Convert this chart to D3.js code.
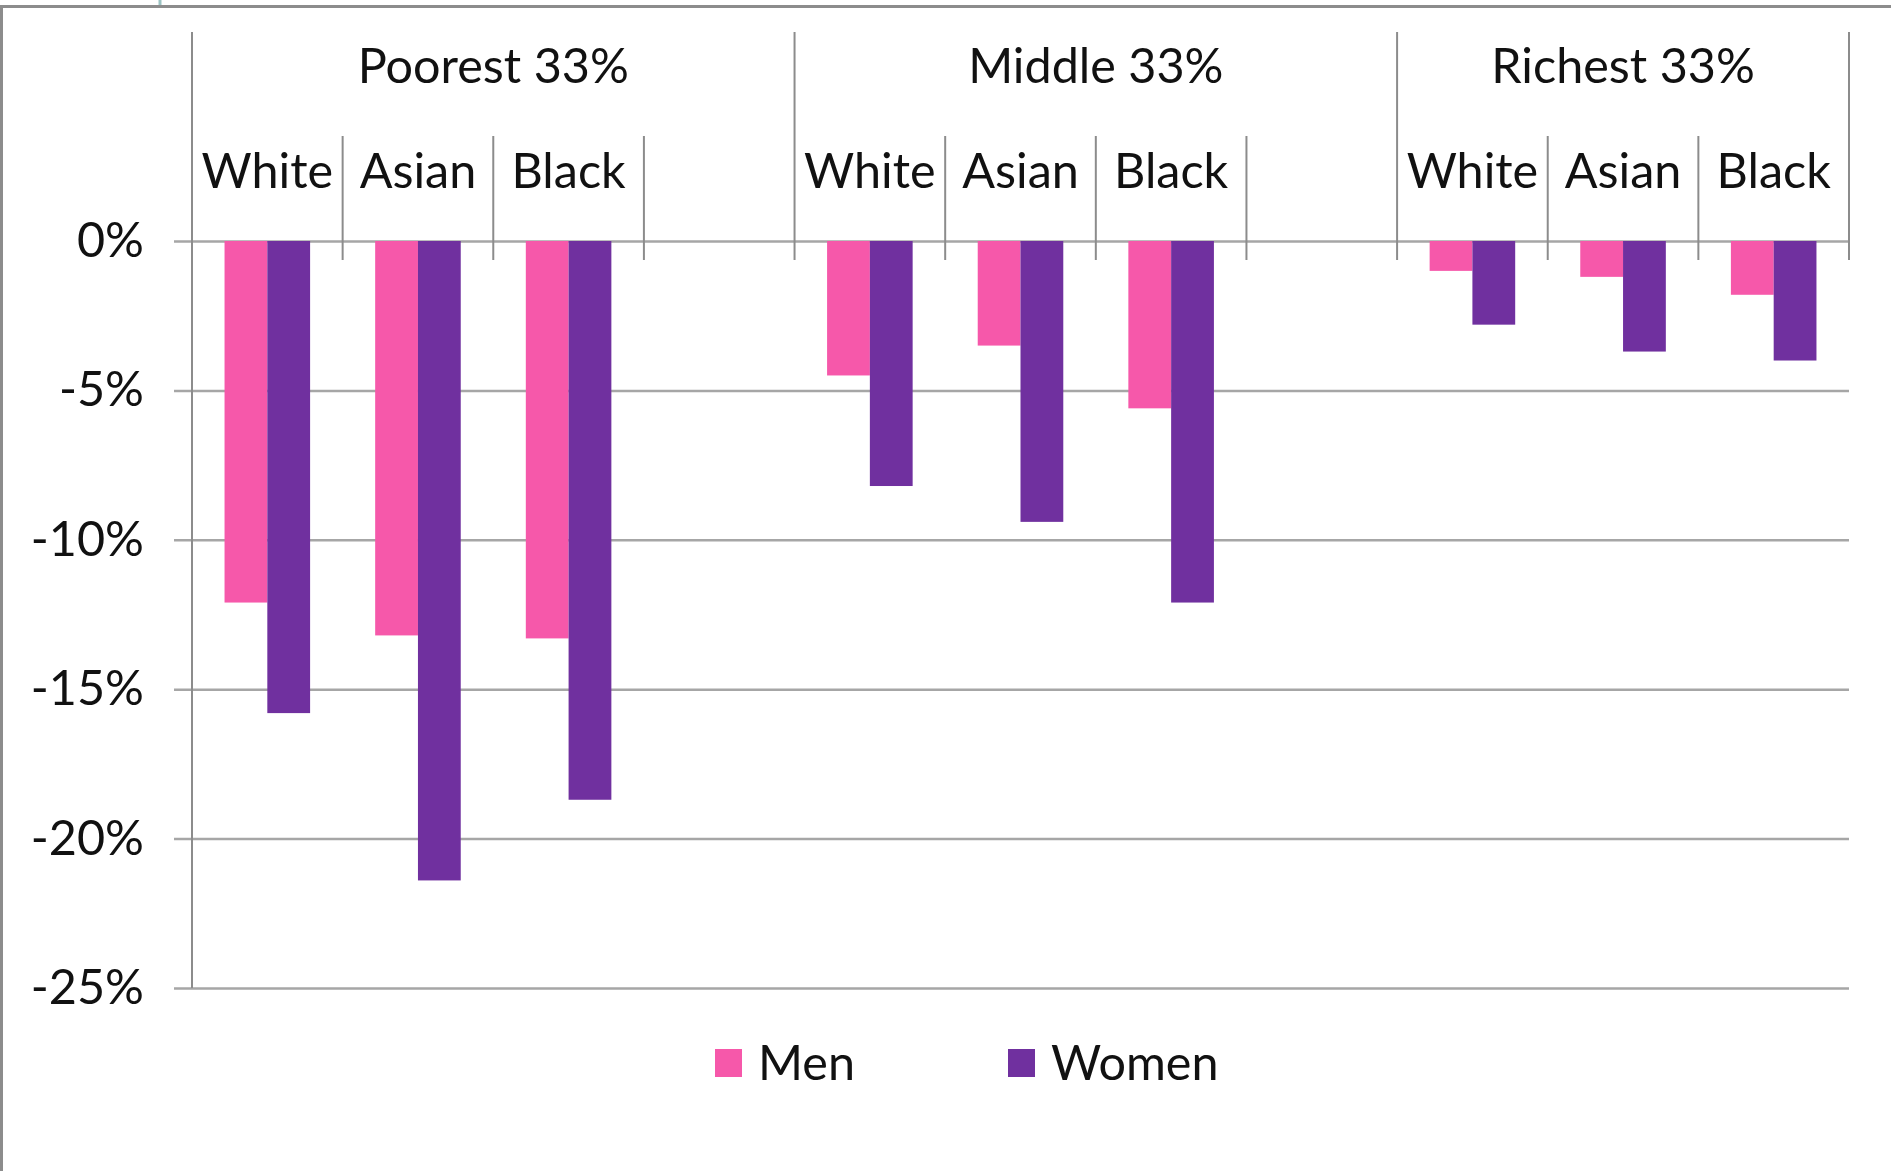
<!DOCTYPE html>
<html>
<head>
<meta charset="utf-8">
<script src="https://cdn.jsdelivr.net/npm/d3@7"></script>
<style>
  body { margin: 0; background: #fff; }
  text { font-family: Lato, "Liberation Sans", sans-serif; fill: #111; }
</style>
</head>
<body>
<script>
    var groups = ["Poorest 33%", "Middle 33%", "Richest 33%"];
    var races = ["White", "Asian", "Black"];
    var series = ["Men", "Women"];
    var men   = [-12.1, -13.2, -13.3, -4.5, -3.5, -5.6, -1.0, -1.2, -1.8];
    var women = [-15.8, -21.4, -18.7, -8.2, -9.4, -12.1, -2.8, -3.7, -4.0];
    var yTicks = [0, -5, -10, -15, -20, -25];

    var colors = {Men: "#f658aa", Women: "#70309f"};

    var width = 1891, height = 1171;
    var pLeft = 192, pRight = 1849, pTop = 241, pBottom = 988;
    var fontSize = 48.5;

    // one slot per race, plus an empty slot after each group but the last
    var slots = d3.range(groups.length * 4 - 1);
    var slotOf = function(i) { return Math.floor(i / 3) * 4 + (i % 3); };

    var x = d3.scaleBand().domain(slots).range([pLeft, pRight]).padding(0);
    var y = d3.scaleLinear().domain([0, -25]).range([pTop, pBottom]);
    var barW = x.bandwidth() * 0.284;

    var svg = d3.select("body").append("svg")
      .attr("width", width)
      .attr("height", height);

    //outer frame
    svg.append("path")
      .attr("d", "M1.5," + height + "V6.5H" + width)
      .attr("fill", "none")
      .attr("stroke", "#8c8c8c")
      .attr("stroke-width", 3);
    svg.append("line")
      .attr("x1", 160).attr("x2", 160).attr("y1", 0).attr("y2", 5)
      .attr("stroke", "#9cc3c3").attr("stroke-width", 3);

    //add the Y axis with gridlines
    var yAxis = svg.append("g")
      .attr("transform", "translate(" + (pLeft - 18) + ",0)")
      .call(d3.axisLeft(y)
        .tickValues(yTicks)
        .tickSize(-(pRight - pLeft + 18))
        .tickPadding(30)
        .tickFormat(function(d) { return d + "%"; }));
    yAxis.select(".domain").remove();
    yAxis.selectAll(".tick line")
      .attr("stroke", "#a6a6a6")
      .attr("stroke-width", 2.5);
    yAxis.selectAll(".tick text")
      .style("font-size", fontSize + "px")
      .attr("fill", "#111");

    //plot left edge
    svg.append("line")
      .attr("x1", pLeft).attr("x2", pLeft)
      .attr("y1", 32).attr("y2", pBottom)
      .attr("stroke", "#8c8c8c").attr("stroke-width", 2);

    //category ticks and group dividers
    var bounds = slots.concat([slots.length]);
    svg.selectAll(".ctick")
      .data(bounds)
      .enter().append("line")
      .attr("class", "ctick")
      .attr("x1", function(d) { return d < slots.length ? x(d) : pRight; })
      .attr("x2", function(d) { return d < slots.length ? x(d) : pRight; })
      .attr("y1", function(d) { return d % 4 === 0 || d === slots.length ? 32 : 136; })
      .attr("y2", 260)
      .attr("stroke", "#8c8c8c")
      .attr("stroke-width", 2);

    //add the bars
    var bars = [];
    men.forEach(function(v, i) {
      bars.push({s: "Men", slot: slotOf(i), v: v});
      bars.push({s: "Women", slot: slotOf(i), v: women[i]});
    });
    var off = (x.bandwidth() - 2 * barW) / 2;
    svg.selectAll(".bar")
      .data(bars)
      .enter().append("rect")
      .attr("class", "bar")
      .attr("x", function(d) { return x(d.slot) + off + (d.s === "Women" ? barW : 0); })
      .attr("y", y(0))
      .attr("width", barW)
      .attr("height", function(d) { return y(d.v) - y(0); })
      .attr("fill", function(d) { return colors[d.s]; });

    //race labels
    var raceLabels = [];
    groups.forEach(function(g, gi) {
      races.forEach(function(r, ri) { raceLabels.push({t: r, slot: gi * 4 + ri}); });
    });
    svg.selectAll(".race")
      .data(raceLabels)
      .enter().append("text")
      .attr("class", "race")
      .attr("x", function(d) { return x(d.slot) + x.bandwidth() / 2; })
      .attr("y", 171)
      .attr("dy", "0.35em")
      .attr("text-anchor", "middle")
      .style("font-size", fontSize + "px")
      .text(function(d) { return d.t; });

    //group labels
    svg.selectAll(".grp")
      .data(groups)
      .enter().append("text")
      .attr("class", "grp")
      .attr("x", function(d, i) {
        var a = x(i * 4), b = i === groups.length - 1 ? pRight : x(i * 4 + 4);
        return (a + b) / 2;
      })
      .attr("y", 66)
      .attr("dy", "0.35em")
      .attr("text-anchor", "middle")
      .style("font-size", fontSize + "px")
      .text(function(d) { return d; });

    //legend
    var legX = [715, 1008];
    var leg = svg.selectAll(".leg")
      .data(series)
      .enter().append("g")
      .attr("class", "leg")
      .attr("transform", function(d, i) { return "translate(" + legX[i] + ",1049)"; });
    leg.append("rect")
      .attr("width", 27).attr("height", 28)
      .attr("fill", function(d) { return colors[d]; });
    leg.append("text")
      .attr("x", 43)
      .attr("y", 14)
      .attr("dy", "0.35em")
      .style("font-size", fontSize + "px")
      .text(function(d) { return d; });
</script>
</body>
</html>
